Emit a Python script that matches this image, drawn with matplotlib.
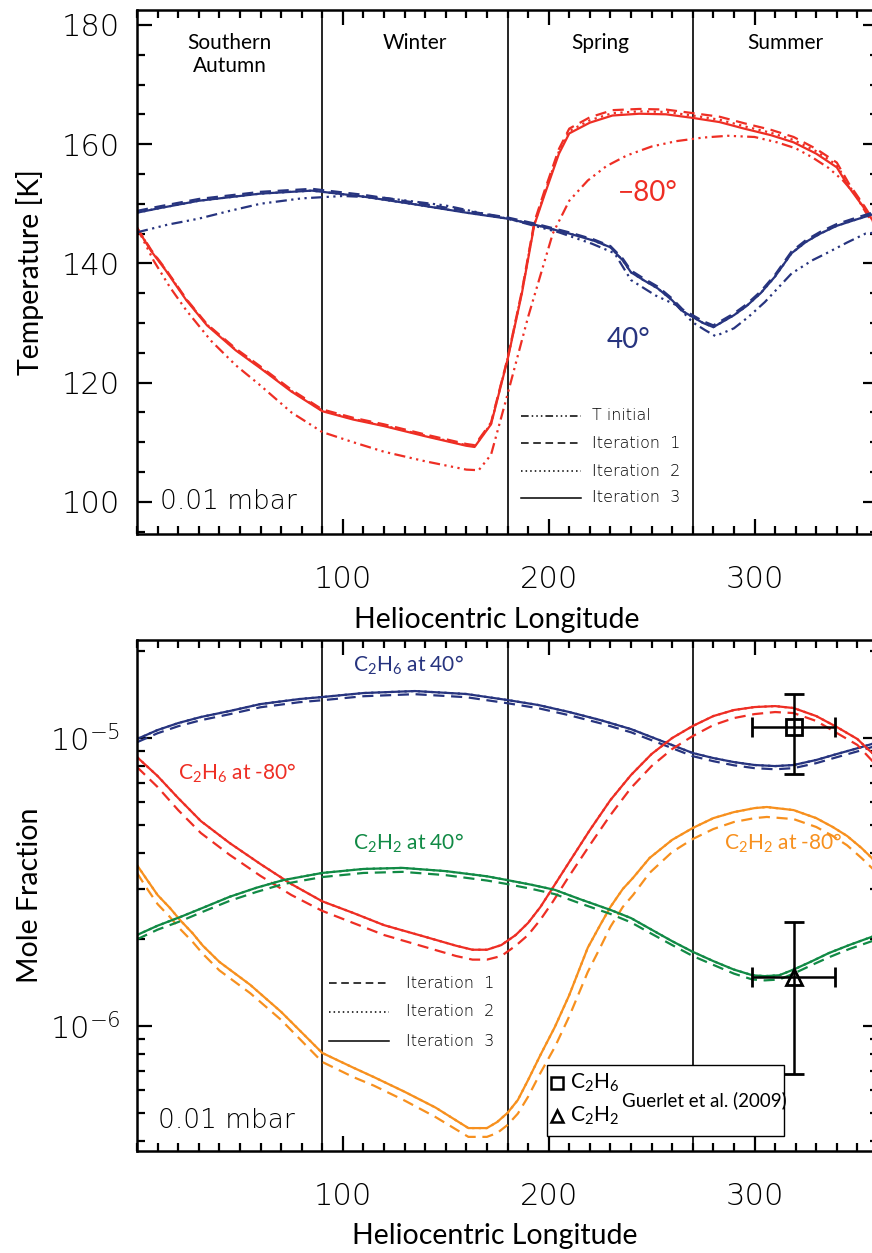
import numpy as np
import matplotlib
matplotlib.use("Agg")
import matplotlib.pyplot as plt
from matplotlib.ticker import MultipleLocator, LogLocator, NullFormatter, FixedLocator

plt.rcParams["font.family"] = "DejaVu Sans"
plt.rcParams["mathtext.default"] = "regular"

# ---------------- top panel: temperature at 0.01 mbar ----------------
lon_red = [0, 7, 14, 24, 34, 48, 60, 75, 90, 105, 120, 140, 160, 164, 172, 180, 187, 193, 198,
           205, 210, 220, 231, 244, 257, 270, 283, 295, 308, 319, 330, 340, 346, 353, 360]
T_red3 = [145.9, 142.0, 138.8, 133.8, 129.6, 125.4, 122.4, 118.5, 115.2, 113.8, 112.7, 111.0,
          109.4, 109.2, 113.0, 123.8, 135.0, 146.4, 151.5, 158.4, 161.8, 163.6, 164.8, 165.1,
          165.0, 164.4, 163.7, 162.6, 161.5, 160.3, 158.4, 156.1, 152.7, 149.4, 145.9]
T_red2 = [145.9, 142.1, 138.9, 133.9, 129.7, 125.5, 122.5, 118.6, 115.3, 113.9, 112.8, 111.1,
          109.5, 109.3, 113.1, 123.9, 135.2, 146.6, 151.8, 158.8, 162.2, 164.0, 165.2, 165.5,
          165.4, 164.8, 164.1, 163.0, 161.9, 160.7, 158.8, 156.5, 153.0, 149.6, 145.9]
T_red1 = [146.0, 142.2, 139.0, 134.0, 129.8, 125.7, 122.7, 118.8, 115.5, 114.1, 113.0, 111.3,
          109.7, 109.5, 113.3, 124.0, 135.4, 146.9, 152.2, 159.2, 162.6, 164.5, 165.7, 165.9,
          165.8, 165.2, 164.6, 163.5, 162.4, 161.2, 159.2, 156.9, 153.3, 149.8, 146.0]

lon_red0 = [0, 8, 16, 24, 36, 48, 60, 75, 90, 105, 120, 140, 160, 166, 172, 180, 190, 202, 210,
            219, 228, 238, 250, 262, 275, 287, 300, 311, 320, 328, 336, 343, 349, 355, 360]
T_red0 = [146.0, 140.5, 136.0, 132.1, 127.0, 122.9, 119.5, 115.0, 111.7, 110.0, 108.4, 106.8,
          105.4, 105.3, 107.9, 118.0, 131.0, 145.0, 150.5, 153.9, 156.3, 158.1, 159.6, 160.5,
          161.1, 161.4, 161.2, 160.3, 159.3, 157.8, 156.0, 153.9, 151.5, 148.0, 146.0]

lon_blue = [0, 10, 30, 60, 85, 110, 135, 160, 180, 193, 210, 222, 230, 236, 240, 246, 253, 260,
            265, 270, 275, 280, 285, 290, 296, 303, 310, 318, 325, 332, 340, 348, 360]
T_blue3 = [148.5, 149.2, 150.5, 151.7, 152.2, 151.2, 149.9, 148.5, 147.5, 146.5, 145.0, 143.8,
           142.7, 140.5, 138.5, 137.2, 135.8, 133.8, 132.0, 131.0, 130.0, 129.3, 130.3, 131.3,
           132.8, 135.0, 137.8, 141.7, 143.6, 145.0, 146.3, 147.2, 148.5]
T_blue1 = [148.8, 149.5, 150.8, 152.0, 152.5, 151.5, 150.2, 148.8, 147.7, 146.7, 145.2, 144.0,
           142.9, 140.8, 138.8, 137.5, 136.1, 134.1, 132.3, 131.3, 130.3, 129.6, 130.6, 131.6,
           133.1, 135.3, 138.1, 142.0, 143.9, 145.3, 146.6, 147.5, 148.8]

lon_blue0 = [0, 15, 30, 45, 60, 80, 100, 120, 150, 180, 205, 221, 232, 240, 252, 262, 270, 276,
             281, 290, 297, 305, 318, 328, 335, 345, 354, 360]
T_blue0 = [145.2, 146.5, 147.5, 148.8, 150.0, 150.9, 151.3, 151.0, 149.7, 147.5, 145.2, 143.3,
           141.7, 137.2, 134.6, 133.0, 130.1, 128.8, 127.8, 129.1, 131.0, 133.5, 138.3, 140.5,
           141.7, 143.5, 145.0, 145.2]

# ---------------- bottom panel: mole fractions (units of 1e-5) ----------------
lon_c2h6_n = [0, 10, 20, 31, 45, 60, 79, 90, 110, 135, 160, 180, 195, 210, 225, 240, 255, 270,
              280, 290, 300, 310, 319, 330, 340, 352, 360]
c2h6_n_it3 = [0.992, 1.066, 1.127, 1.183, 1.241, 1.312, 1.366, 1.388, 1.433, 1.456, 1.422, 1.355,
              1.302, 1.231, 1.155, 1.074, 0.976, 0.887, 0.852, 0.825, 0.806, 0.799, 0.806,
              0.839, 0.880, 0.930, 0.968]
c2h6_n_it1 = [0.967, 1.039, 1.099, 1.153, 1.210, 1.279, 1.332, 1.353, 1.397, 1.420, 1.386, 1.321,
              1.269, 1.200, 1.126, 1.047, 0.952, 0.865, 0.831, 0.804, 0.786, 0.779, 0.786,
              0.818, 0.858, 0.907, 0.944]

lon_c2h6_s = [0, 10, 20, 31, 45, 60, 75, 90, 105, 120, 140, 155, 163, 170, 177, 184, 190, 196,
              202, 210, 220, 230, 240, 250, 260, 270, 280, 290, 300, 310, 319, 330, 340, 350,
              355, 360]
c2h6_s_it3 = [0.859, 0.738, 0.619, 0.515, 0.432, 0.365, 0.311, 0.271, 0.247, 0.224, 0.204, 0.190,
              0.184, 0.184, 0.191, 0.207, 0.228, 0.259, 0.302, 0.371, 0.479, 0.609, 0.744,
              0.880, 1.000, 1.101, 1.192, 1.251, 1.281, 1.291, 1.271, 1.192, 1.092, 0.992,
              0.916, 0.852]
c2h6_s_it1 = [0.793, 0.676, 0.562, 0.468, 0.393, 0.332, 0.285, 0.251, 0.228, 0.207, 0.188, 0.175,
              0.170, 0.170, 0.175, 0.190, 0.207, 0.234, 0.270, 0.332, 0.425, 0.540, 0.671,
              0.799, 0.916, 1.016, 1.109, 1.173, 1.211, 1.231, 1.221, 1.146, 1.041, 0.946,
              0.866, 0.793]

lon_c2h2_s = [0, 5, 10, 16, 21, 27, 32, 40, 55, 70, 90, 105, 115, 130, 145, 161, 170, 175, 180,
              185, 190, 196, 203, 210, 219, 225, 230, 236, 241, 249, 260, 270, 280, 290, 300,
              306, 319, 330, 338, 345, 352, 357, 360]
c2h2_s_it3 = [0.362, 0.321, 0.285, 0.257, 0.233, 0.210, 0.190, 0.167, 0.139, 0.112, 0.0806,
              0.0717, 0.0665, 0.0591, 0.0521, 0.0442, 0.0442, 0.0464, 0.0499, 0.0553, 0.0649,
              0.0793, 0.0992, 0.128, 0.187, 0.224, 0.259, 0.299, 0.327, 0.383, 0.443, 0.487,
              0.527, 0.553, 0.571, 0.576, 0.562, 0.527, 0.491, 0.457, 0.415, 0.383, 0.359]
c2h2_s_it1 = [0.340, 0.299, 0.265, 0.239, 0.217, 0.196, 0.178, 0.156, 0.130, 0.105, 0.0750,
              0.0665, 0.0621, 0.0551, 0.0483, 0.0412, 0.0412, 0.0425, 0.0453, 0.0496, 0.0568,
              0.0687, 0.0845, 0.108, 0.154, 0.187, 0.221, 0.259, 0.285, 0.340, 0.402, 0.446,
              0.483, 0.511, 0.527, 0.532, 0.523, 0.491, 0.457, 0.424, 0.383, 0.354, 0.337]

lon_c2h2_n = [0, 10, 21, 33, 45, 58, 71, 90, 110, 129, 150, 170, 180, 192, 203, 215, 230, 240,
              250, 260, 270, 280, 290, 299, 305, 312, 319, 328, 336, 346, 357, 360]
c2h2_n_it3 = [0.207, 0.223, 0.239, 0.259, 0.281, 0.302, 0.321, 0.340, 0.351, 0.354, 0.345, 0.331,
              0.321, 0.309, 0.297, 0.276, 0.253, 0.237, 0.216, 0.197, 0.181, 0.168, 0.157,
              0.150, 0.149, 0.150, 0.157, 0.168, 0.179, 0.191, 0.204, 0.207]
c2h2_n_it1 = [0.200, 0.216, 0.231, 0.251, 0.272, 0.292, 0.311, 0.329, 0.340, 0.343, 0.334, 0.320,
              0.311, 0.299, 0.287, 0.267, 0.245, 0.229, 0.209, 0.191, 0.175, 0.163, 0.152,
              0.145, 0.144, 0.145, 0.152, 0.163, 0.173, 0.185, 0.197, 0.200]

# Guerlet et al. (2009)
obs_lon = [319, 319]
obs_lon_err = [20, 20]
obs_c2h6 = [1.088e-5]
obs_c2h6_err = [[0.335e-5], [0.339e-5]]
obs_c2h2 = [1.48e-6]
obs_c2h2_err = [[0.80e-6], [0.82e-6]]

seasons = ["Southern\nAutumn", "Winter", "Spring", "Summer"]
season_centers = [45, 135, 225, 315]
season_edges = [90, 180, 270]

RED = "#ee2e24"
BLUE = "#27347f"
GREEN = "#118a45"
ORANGE = "#f7901e"

W, H = 872, 1253
fig = plt.figure(figsize=(W / 100, H / 100), dpi=100)


def axes_px(left, top, right, bottom):
    return fig.add_axes([left / W, 1 - bottom / H, (right - left) / W, (bottom - top) / H])


ax1 = axes_px(137, 10, 878, 534)
ax2 = axes_px(137, 640, 878, 1151)

DASH = (0, (5, 3))
DOT = (0, (1, 2))
DDD = (0, (5, 2, 1, 2, 1, 2, 1, 2))
LW = 1.6

# top curves
ax1.plot(lon_red0, T_red0, color=RED, lw=LW, ls=DDD)
ax1.plot(lon_red, T_red1, color=RED, lw=LW, ls=DASH)
ax1.plot(lon_red, T_red2, color=RED, lw=LW, ls=DOT)
ax1.plot(lon_red, T_red3, color=RED, lw=LW)
ax1.plot(lon_blue0, T_blue0, color=BLUE, lw=LW, ls=DDD)
ax1.plot(lon_blue, T_blue1, color=BLUE, lw=LW, ls=DASH)
ax1.plot(lon_blue, T_blue3, color=BLUE, lw=LW, ls=DOT)
ax1.plot(lon_blue, T_blue3, color=BLUE, lw=LW)

ax1.set_xlim(0, 360)
ax1.set_ylim(94.6, 182.5)

# bottom curves
for lon, it3, it1, col in [(lon_c2h6_n, c2h6_n_it3, c2h6_n_it1, BLUE),
                           (lon_c2h6_s, c2h6_s_it3, c2h6_s_it1, RED),
                           (lon_c2h2_s, c2h2_s_it3, c2h2_s_it1, ORANGE),
                           (lon_c2h2_n, c2h2_n_it3, c2h2_n_it1, GREEN)]:
    ax2.plot(lon, np.array(it1) * 1e-5, color=col, lw=LW, ls=DASH)
    ax2.plot(lon, np.array(it3) * 1e-5, color=col, lw=LW, ls=DOT)
    ax2.plot(lon, np.array(it3) * 1e-5, color=col, lw=LW)

ax2.errorbar(obs_lon[:1], obs_c2h6, xerr=obs_lon_err[0], yerr=obs_c2h6_err, fmt="s", ms=11,
             mfc="none", mec="black", mew=2, ecolor="black", elinewidth=1.8, capsize=7,
             capthick=1.8)
ax2.errorbar(obs_lon[1:], obs_c2h2, xerr=obs_lon_err[1], yerr=obs_c2h2_err, fmt="^", ms=11,
             mfc="none", mec="black", mew=2, ecolor="black", elinewidth=1.8, capsize=7,
             capthick=1.8)

ax2.set_yscale("log")
ax2.set_xlim(0, 360)
ax2.set_ylim(3.68e-7, 2.19e-5)

for ax in (ax1, ax2):
    for e in season_edges:
        ax.axvline(e, color="black", lw=1.2, zorder=1)
    for s in ax.spines.values():
        s.set_linewidth(1.8)
    ax.xaxis.set_major_locator(FixedLocator([100, 200, 300]))
    ax.xaxis.set_minor_locator(MultipleLocator(10))
    ax.tick_params(which="both", direction="in", top=True, right=True, width=1.6,
                   labelsize=22)
    ax.tick_params(which="major", length=11)
    ax.tick_params(which="minor", length=6)
    ax.tick_params(axis="x", pad=22)
    ax.tick_params(axis="y", pad=12)
    for lab in ax.get_xticklabels() + ax.get_yticklabels():
        lab.set_fontweight("light")

ax1.yaxis.set_major_locator(MultipleLocator(20))
ax1.yaxis.set_minor_locator(MultipleLocator(5))
ax2.yaxis.set_minor_locator(LogLocator(base=10, subs=np.arange(2, 10), numticks=20))
ax2.yaxis.set_minor_formatter(NullFormatter())
ax2.set_yticks([1e-6, 1e-5])
ax2.set_yticklabels([r"$10^{-6}$", r"$10^{-5}$"])
for lab in ax2.get_yticklabels():
    lab.set_fontweight("light")

# season labels
for name, c in zip(seasons, season_centers):
    ax1.text(c, 0.957, name, transform=ax1.get_xaxis_transform(), ha="center", va="top",
             fontsize=15, family="Lato", linespacing=1.2)

# text in the panels
ax1.text(0.031, 0.062, "0.01 mbar", transform=ax1.transAxes, fontsize=19, fontweight="light",
         va="center")
ax2.text(0.028, 0.06, "0.01 mbar", transform=ax2.transAxes, fontsize=19, fontweight="light",
         va="center")
ax1.text(248, 151.8, "\u221280\u00b0", color=RED, fontsize=20, family="Lato", ha="center",
         va="center")
ax1.text(239, 127.1, "40\u00b0", color=BLUE, fontsize=20, family="Lato", ha="center",
         va="center")

ax2.text(132, 1.79e-5, r"C$_2$H$_6$ at 40°", color=BLUE, fontsize=15, family="Lato",
         ha="center", va="center")
ax2.text(20, 0.756e-5, r"C$_2$H$_6$ at -80°", color=RED, fontsize=15, family="Lato",
         ha="left", va="center")
ax2.text(132, 4.3e-6, r"C$_2$H$_2$ at 40°", color=GREEN, fontsize=15, family="Lato",
         ha="center", va="center")
ax2.text(285, 4.3e-6, r"C$_2$H$_2$ at -80°", color=ORANGE, fontsize=15, family="Lato",
         ha="left", va="center")


# line-style keys
def key(ax, bottom, height, x0, x1, xt, rows, styles, labels):
    for y, st, lab in zip(rows, styles, labels):
        yf = (bottom - y) / height
        ax.plot([(x0 - 137) / 741, (x1 - 137) / 741], [yf, yf], transform=ax.transAxes,
                color="black", lw=1.1, ls=st)
        ax.text((xt - 137) / 741, yf, lab, transform=ax.transAxes, fontsize=11.5,
                fontweight="light", va="center")


key(ax1, 534, 524, 521, 581, 592, [416, 443, 471, 498], [DDD, DASH, DOT, "-"],
    ["T initial", "Iteration  1", "Iteration  2", "Iteration  3"])
key(ax2, 1151, 511, 329, 389, 406, [983, 1012, 1041], [DASH, DOT, "-"],
    ["Iteration  1", "Iteration  2", "Iteration  3"])

# observation key box
bx0, by0, bx1, by1 = 547, 1065, 784, 1136
rect = plt.Rectangle(((bx0 - 137) / 741, (1151 - by1) / 511), (bx1 - bx0) / 741,
                     (by1 - by0) / 511, transform=ax2.transAxes, fill=True, fc="white",
                     ec="black", lw=1.0, zorder=5)
ax2.add_patch(rect)
ax2.plot([(557 - 137) / 741], [(1151 - 1083) / 511], "s", ms=9, mfc="none", mec="black",
         mew=1.8, transform=ax2.transAxes, zorder=6)
ax2.plot([(557 - 137) / 741], [(1151 - 1116) / 511], "^", ms=9, mfc="none", mec="black",
         mew=1.8, transform=ax2.transAxes, zorder=6)
ax2.text((570 - 137) / 741, (1151 - 1083) / 511, r"C$_2$H$_6$", transform=ax2.transAxes,
         fontsize=15, family="Lato", va="center", zorder=6)
ax2.text((570 - 137) / 741, (1151 - 1116) / 511, r"C$_2$H$_2$", transform=ax2.transAxes,
         fontsize=15, family="Lato", va="center", zorder=6)
ax2.text((622 - 137) / 741, (1151 - 1100) / 511, "Guerlet et al. (2009)",
         transform=ax2.transAxes, fontsize=13.5, family="Lato", va="center", zorder=6)

# axis titles
fig.text(497 / W, 1 - 620 / H, "Heliocentric Longitude", fontsize=20.5, family="Lato",
         ha="center", va="center")
fig.text(495 / W, 1 - 1236 / H, "Heliocentric Longitude", fontsize=20.5, family="Lato",
         ha="center", va="center")
fig.text(30 / W, 1 - 272 / H, "Temperature [K]", fontsize=20.5, family="Lato", rotation=90,
         ha="center", va="center")
fig.text(30 / W, 1 - 895 / H, "Mole Fraction", fontsize=20.5, family="Lato", rotation=90,
         ha="center", va="center")

fig.savefig("out.png", dpi=100)
